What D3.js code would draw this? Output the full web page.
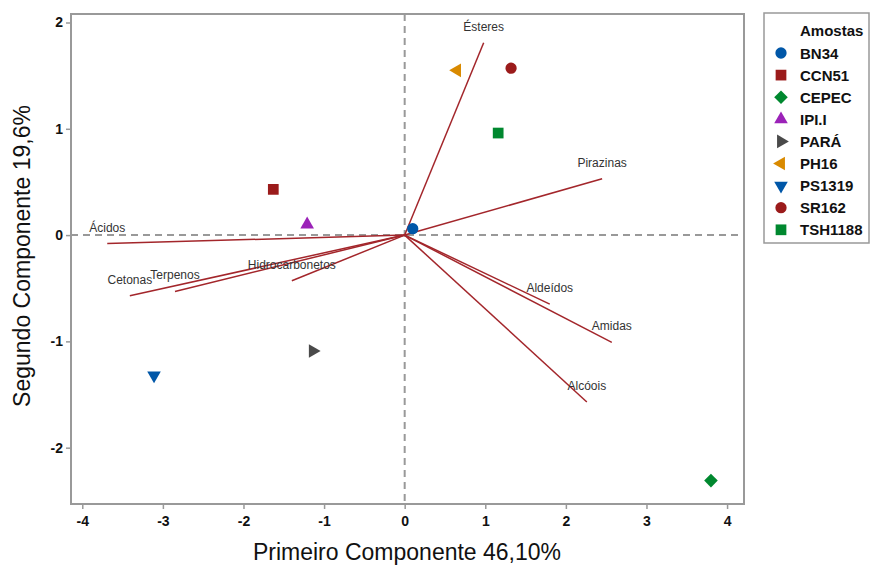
<!DOCTYPE html>
<html>
<head>
<meta charset="utf-8">
<script src="https://cdn.jsdelivr.net/npm/d3@7"></script>
<style>
  body { margin: 0; background: #fff; }
  svg { display: block; font-family: "Liberation Sans", Arial, sans-serif; }
</style>
</head>
<body>
<svg id="chart" width="871" height="566"></svg>
<script>
// scores (amostas)
const samples = ["BN34", "CCN51", "CEPEC", "IPI.I", "PARÁ", "PH16", "PS1319", "SR162", "TSH1188"];
const pc1 = [0.10, -1.63, 3.80, -1.21, -1.14, 0.65, -3.11, 1.32, 1.16];
const pc2 = [0.06, 0.43, -2.31, 0.10, -1.09, 1.55, -1.32, 1.57, 0.96];
const sampleColors = ["#0057a8", "#9b1b1b", "#00882f", "#9b22b8", "#4a4a4a", "#d98a00", "#0057a8", "#9b1b1b", "#00882f"];
const sampleShapes = ["circle", "square", "diamond", "up", "right", "left", "down", "circle", "square"];

// loadings (compostos)
const compounds = ["Ésteres", "Pirazinas", "Aldeídos", "Amidas", "Alcóois", "Ácidos", "Cetonas", "Terpenos", "Hidrocarbonetos"];
const load1 = [0.98, 2.45, 1.80, 2.57, 2.26, -3.69, -3.41, -2.85, -1.40];
const load2 = [1.81, 0.53, -0.65, -1.01, -1.57, -0.08, -0.57, -0.53, -0.43];

const xTicks = [-4, -3, -2, -1, 0, 1, 2, 3, 4];
const yTicks = [-2, -1, 0, 1, 2];

const svg = d3.select("#chart");
const plotL = 71, plotR = 744, plotT = 14, plotB = 504;

const x = d3.scaleLinear().domain([-4.14, 4.21]).range([plotL, plotR]);
const y = d3.scaleLinear().domain([-2.53, 2.08]).range([plotB, plotT]);

// axes (plain hyphen for negatives, like the original)
const xAxis = svg.append("g").attr("transform", "translate(0," + plotB + ")")
    .call(d3.axisBottom(x).tickValues(xTicks).tickSize(5).tickSizeOuter(0).tickPadding(4).tickFormat(d => String(d)));
const yAxis = svg.append("g").attr("transform", "translate(" + plotL + ",0)")
    .call(d3.axisLeft(y).tickValues(yTicks).tickSize(5).tickSizeOuter(0).tickPadding(3).tickFormat(d => String(d)));
[xAxis, yAxis].forEach(a => {
    a.select(".domain").remove();
    a.selectAll("line").attr("stroke", "#999").attr("stroke-width", 1.5);
    a.selectAll("text").attr("fill", "#111").style("font-size", "14px").style("font-weight", "bold").style("font-family", "Liberation Sans, Arial, sans-serif");
});
xAxis.selectAll("text").attr("dy", "0.95em");

// reference lines
svg.append("line").attr("x1", plotL).attr("x2", plotR).attr("y1", y(0)).attr("y2", y(0))
    .attr("stroke", "#999").attr("stroke-width", 2).attr("stroke-dasharray", "7,5");
svg.append("line").attr("x1", x(0)).attr("x2", x(0)).attr("y1", plotT).attr("y2", plotB)
    .attr("stroke", "#999").attr("stroke-width", 2).attr("stroke-dasharray", "7,5");

// loading vectors
svg.append("g").selectAll("line").data(compounds).join("line")
    .attr("x1", x(0)).attr("y1", y(0))
    .attr("x2", (d, i) => x(load1[i])).attr("y2", (d, i) => y(load2[i]))
    .attr("stroke", "#a3262b").attr("stroke-width", 1.5);
svg.append("g").selectAll("text").data(compounds).join("text")
    .attr("x", (d, i) => x(load1[i])).attr("y", (d, i) => y(load2[i]) - 12)
    .attr("text-anchor", "middle").attr("fill", "#333").style("font-size", "12px")
    .text(d => d);

// symbols
function symbolPath(shape) {
    switch (shape) {
        case "circle": return d3.symbol(d3.symbolCircle, 100)();
        case "square": return d3.symbol(d3.symbolSquare, 115)();
        case "diamond": return d3.symbol(d3.symbolSquare, 92)();
        default: return d3.symbol(d3.symbolTriangle, 80)();
    }
}
function symbolRotate(shape) {
    switch (shape) {
        case "diamond": return 45;
        case "right": return 90;
        case "left": return -90;
        case "down": return 180;
        default: return 0;
    }
}

svg.append("g").selectAll("path").data(samples).join("path")
    .attr("d", (d, i) => symbolPath(sampleShapes[i]))
    .attr("transform", (d, i) => "translate(" + x(pc1[i]) + "," + y(pc2[i]) + ") rotate(" + symbolRotate(sampleShapes[i]) + ")")
    .attr("fill", (d, i) => sampleColors[i]);

// frame
svg.append("rect").attr("x", plotL).attr("y", plotT).attr("width", plotR - plotL).attr("height", plotB - plotT)
    .attr("fill", "none").attr("stroke", "#999").attr("stroke-width", 2);

// axis titles
svg.append("text").attr("x", 407).attr("y", 560).attr("text-anchor", "middle")
    .attr("fill", "#111").style("font-size", "23px").text("Primeiro Componente 46,10%");
svg.append("text").attr("transform", "translate(30,256) rotate(-90)").attr("text-anchor", "middle")
    .attr("fill", "#111").style("font-size", "23px").text("Segundo Componente 19,6%");

// legend
const legend = svg.append("g");
legend.append("rect").attr("x", 764).attr("y", 13).attr("width", 105).attr("height", 230)
    .attr("fill", "#fff").attr("stroke", "#999").attr("stroke-width", 1.5);
legend.append("text").attr("x", 800).attr("y", 36).attr("fill", "#111")
    .style("font-size", "15px").style("font-weight", "bold").text("Amostas");
const items = legend.selectAll("g.item").data(samples).join("g").attr("class", "item")
    .attr("transform", (d, i) => "translate(0," + (53 + i * 22.1) + ")");
items.append("path")
    .attr("d", (d, i) => symbolPath(sampleShapes[i]))
    .attr("transform", (d, i) => "translate(781,0) rotate(" + symbolRotate(sampleShapes[i]) + ")")
    .attr("fill", (d, i) => sampleColors[i]);
items.append("text").attr("x", 800).attr("y", 5.5).attr("fill", "#111")
    .style("font-size", "15px").style("font-weight", "bold").text(d => d);
</script>
</body>
</html>
